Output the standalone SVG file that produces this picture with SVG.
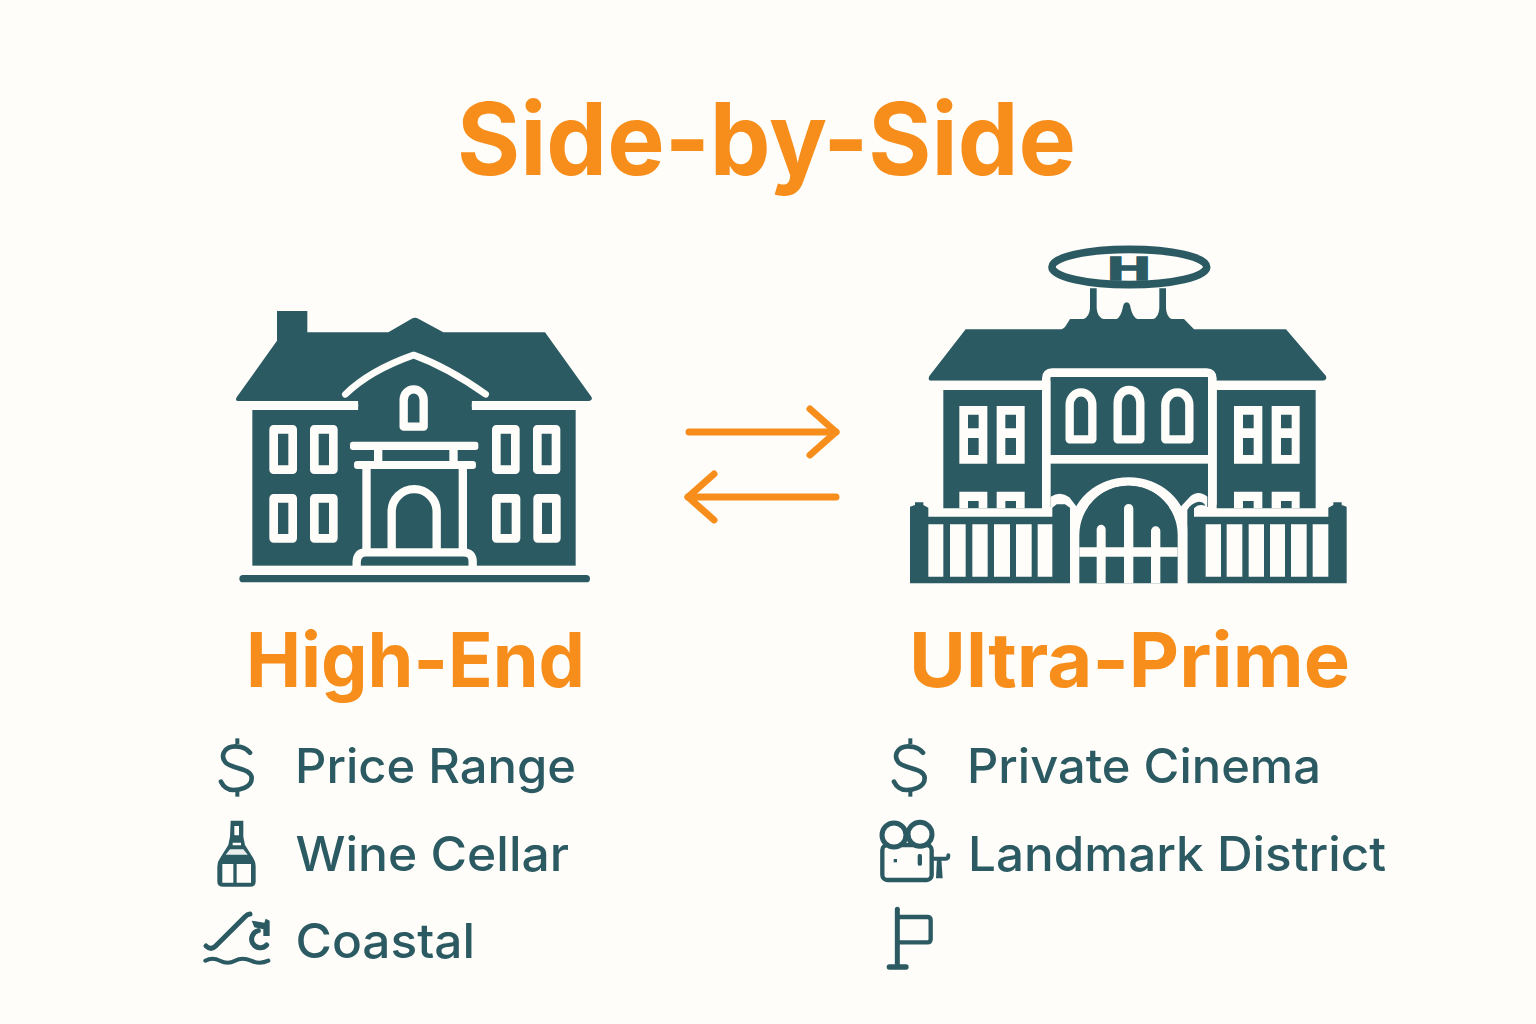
<svg xmlns="http://www.w3.org/2000/svg" width="1536" height="1024" viewBox="0 0 1536 1024">
<style>
.h{font-family:Inter,"Liberation Sans",sans-serif;font-weight:700;fill:#F78E1C}
.l{font-family:Inter,"Liberation Sans",sans-serif;font-weight:500;font-size:48px;fill:#2C5A63}
.d{fill:#2C5A63}
.w{fill:#FEFDF9}
.ws{fill:none;stroke:#FEFDF9;stroke-linecap:round;stroke-linejoin:round}
.ds{fill:none;stroke:#2C5A63;stroke-linecap:round;stroke-linejoin:round}
.wf{fill:#FEFDF9;stroke:none}
</style>
<defs>
<marker id="head" markerUnits="userSpaceOnUse" markerWidth="60" markerHeight="60" refX="30" refY="30" orient="auto" overflow="visible">
<path d="M4,7 L30,30 L4,53" fill="none" stroke="#F78E1C" stroke-width="7" stroke-linecap="round" stroke-linejoin="round"/>
</marker>
<g id="dollar">
<path d="M165,68 C150,50 125,47 110,50 C85,55 78,80 90,95 C105,118 170,112 170,145 C170,175 130,180 115,180 C100,180 85,170 78,155" fill="none" stroke="#2C5A63" stroke-width="14" stroke-linecap="round"/>
<rect x="121" y="25" width="12" height="17" class="d"/><rect x="121" y="183" width="12" height="17" class="d"/>
</g>
</defs>
<rect width="1536" height="1024" fill="#FEFDF9"/>
<text id="title" class="h" x="766.500" y="175" text-anchor="middle" font-size="100" textLength="619" lengthAdjust="spacingAndGlyphs">Side-by-Side</text>

<g id="node-high-end">
<g transform="translate(220,300) scale(.33333)">
<path class="d" d="M171,33H262V97H505L575,56Q585,50 595,56L670,97H975L1115,292Q1118,303 1105,303H55Q44,303 50,292L171,122Z"/>
<rect class="d" x="97" y="300" width="970" height="497"/>
<rect class="w" x="55" y="303" width="360" height="27"/>
<rect class="w" x="755" y="303" width="350" height="27"/>
<circle class="w" cx="403" cy="316" r="13"/><circle class="w" cx="767" cy="316" r="13"/>
<path class="d" d="M415,290H755V340H415Z" />
<path class="ws" stroke-width="20" d="M376,283C430,230 510,190 581,165C650,190 730,235 797,283"/>
<path class="ws" stroke-width="25" stroke-linecap="butt" d="M551,380V300A30,32 0 0 1 611,300V380Z"/>
<g class="ws" stroke-width="26" stroke-linejoin="miter">
<rect x="161" y="388" width="57" height="121"/><rect x="283" y="388" width="57" height="121"/>
<rect x="829" y="388" width="57" height="121"/><rect x="952" y="388" width="56" height="121"/>
<rect x="161" y="595" width="57" height="120"/><rect x="283" y="595" width="57" height="120"/>
<rect x="829" y="595" width="59" height="120"/><rect x="953" y="595" width="56" height="120"/>
</g>
<rect class="w" x="390" y="425" width="385" height="25" rx="8"/>
<rect class="w" x="402" y="483" width="366" height="24" rx="10"/>
<rect class="w" x="462" y="450" width="25" height="33"/><rect class="w" x="688" y="450" width="25" height="33"/>
<rect class="w" x="427" y="507" width="25" height="240"/><rect class="w" x="716" y="507" width="25" height="240"/>
<path class="ws" stroke-width="25" stroke-linecap="butt" d="M515,745V635A67,67 0 0 1 650,635V745"/>
<path class="ws" stroke-width="25" stroke-linecap="butt" d="M410,800V785Q412,757 438,757H730Q758,757 758,785V800"/>
<rect class="d" x="58" y="825" width="1052" height="22" rx="11"/>
</g>
</g>

<g id="node-ultra-prime">
<g transform="translate(900,240) scale(.33333)">
<ellipse cx="688" cy="81" rx="232" ry="53" fill="none" stroke="#2C5A63" stroke-width="23"/>
<text x="0" y="0" transform="translate(687,120) scale(1.78,1)" text-anchor="middle" font-family="'Liberation Sans',sans-serif" font-weight="700" font-size="100" fill="#2C5A63" stroke="#2C5A63" stroke-width="5">H</text>
<path class="d" d="M197,268H480Q490,268 497,258L510,237H550Q568,232 570,205V145H590V205Q592,232 610,237H650Q662,232 668,205Q670,187 680,187Q690,187 692,205Q698,232 712,237H760Q776,232 778,205V145H798V205Q800,232 815,237H852L882,268H1158L1278,408Q1282,422 1268,422H95Q82,422 88,408Z"/>
<rect class="d" x="130" y="450" width="296" height="370"/>
<rect class="d" x="950" y="450" width="297" height="370"/>
<path class="ws" stroke-width="26" stroke-linecap="butt" d="M439,790V415Q439,398 456,398H920Q937,398 937,415V790"/>
<rect class="d" x="452" y="412" width="472" height="233"/>
<rect class="d" x="452" y="671" width="472" height="130"/>
<path class="wf" d="M95,422H426V450H95Z M950,422H1275V450H950Z"/>
<path class="wf" d="M178,498h84v173h-84z M290,498h84v173h-84z M1002,498h85v173h-85z M1115,498h84v173h-84z"/>
<path class="d" d="M204,524h32v41h-32z M204,594h32v51h-32z M316,524h32v41h-32z M316,594h32v51h-32z M1029,524h32v41h-32z M1029,594h32v51h-32z M1143,524h32v41h-32z M1143,594h32v51h-32z"/>
<path class="wf" d="M178,755h84v50h-84z M290,755h84v50h-84z M1002,755h85v50h-85z M1115,755h84v50h-84z"/>
<path class="d" d="M204,783h32v22h-32z M316,783h32v22h-32z M1029,783h32v22h-32z M1143,783h32v22h-32z"/>
<g class="ws" stroke-width="25" stroke-linecap="butt">
<path d="M509,598V495A34,38 0 0 1 577,495V598Z"/>
<path d="M653,598V488A34,38 0 0 1 721,488V598Z"/>
<path d="M796,598V495A36,38 0 0 1 868,495V598Z"/>
</g>
<path class="wf" d="M85,805H470V830H85Z M905,805H1290V830H905Z"/>
<path class="wf" d="M452,770Q482,752 508,772L530,800V830H452Z"/>
<path class="wf" d="M842,800L870,770Q895,748 922,770V830H842Z"/>
<path class="d" d="M30,800L45,795V787H70V795L85,803V830H457V803L470,793H495L510,803V1030H30Z"/>
<path class="d" d="M862,810Q872,790 895,785Q912,785 916,797Q895,790 882,805V830H1285V803L1300,795V787H1325V795L1340,800V1030H862Z"/>
<path class="wf" d="M85,853h45v157h-45z M150,853h47v157h-47z M217,853h46v157h-46z M282,853h48v157h-48z M348,853h47v157h-47z M413,853h44v157h-44z M917,853h46v157h-46z M980,853h47v157h-47z M1046,853h46v157h-46z M1110,853h45v157h-45z M1173,853h47v157h-47z M1238,853h47v157h-47z"/>
<path class="wf" d="M510,1030V870A176,158 0 0 1 862,870V1030H833V885A147,147 0 0 0 538,885V1030Z"/>
<path class="d" d="M538,1030V885A147,147 0 0 1 833,885V1030Z"/>
<path class="wf" d="M538,922H833V950H538Z"/>
<path class="wf" d="M590,1030V868A13.500,13.500 0 0 1 617,868V1030Z M672,1030V806A14,14 0 0 1 700,806V1030Z M753,1030V873A14,14 0 0 1 781,873V1030Z"/>
</g>
</g>

<g id="connectors">
<path d="M689,432H836" fill="none" stroke="#F78E1C" stroke-width="7" stroke-linecap="round" marker-end="url(#head)"/>
<path d="M836,497H688" fill="none" stroke="#F78E1C" stroke-width="7" stroke-linecap="round" marker-end="url(#head)"/>
</g>

<text id="label-high-end" class="h" x="415.500" y="687" text-anchor="middle" font-size="76" textLength="339" lengthAdjust="spacingAndGlyphs">High-End</text>
<text id="label-ultra-prime" class="h" x="1129.500" y="687" text-anchor="middle" font-size="76" textLength="441" lengthAdjust="spacingAndGlyphs">Ultra-Prime</text>

<g id="item-price-range">
<use href="#dollar" transform="translate(195,730) scale(.33333)"/>
<text class="l" x="295" y="783" textLength="281" lengthAdjust="spacingAndGlyphs">Price Range</text>
</g>
<g id="item-wine-cellar">
<g transform="translate(195,730) scale(.33333)">
<path class="d" d="M107,272H145V320L150,345L175,385Q182,395 182,410V455Q182,470 165,470H85Q67,470 67,455V410Q67,395 75,385L100,345L105,320Z"/>
<path class="w" d="M118,288h14v28h-14z M113,338h25v8h-25z M82,402h33v56h-33z M125,402h43v56h-43z"/>
<path class="w" d="M105,358L145,358L158,374H92Z" opacity=".9"/>
</g>
<text class="l" x="295.500" y="871" textLength="273.500" lengthAdjust="spacingAndGlyphs">Wine Cellar</text>
</g>
<g id="item-coastal">
<g transform="translate(195,730) scale(.33333)">
<path class="ds" stroke-width="15" d="M33,648Q48,662 62,648L150,560Q157,553 165,552"/>
<path class="ds" stroke-width="15" d="M190,602A26,26 0 1 0 215,645"/>
<path class="d" d="M170,572L208,578L212,566L224,572V618L205,618L205,598L178,592Z"/>
<path class="ds" stroke-width="12" d="M31,692Q52,680 75,692T120,692T168,692T220,692"/>
</g>
<text class="l" x="295.500" y="958" textLength="179.500" lengthAdjust="spacingAndGlyphs">Coastal</text>
</g>
<g id="item-private-cinema">
<use href="#dollar" transform="translate(868,730) scale(.33333)"/>
<text class="l" x="967" y="783" textLength="354" lengthAdjust="spacingAndGlyphs">Private Cinema</text>
</g>
<g id="item-landmark-district">
<g transform="translate(870,730) scale(.33333)">
<rect x="37" y="345" width="148" height="105" rx="15" fill="none" stroke="#2C5A63" stroke-width="13"/>
<circle cx="72" cy="315" r="36" fill="#FEFDF9" stroke="#2C5A63" stroke-width="15"/>
<circle cx="150" cy="313" r="36" fill="#FEFDF9" stroke="#2C5A63" stroke-width="15"/>
<path class="ds" stroke-width="12" d="M188,386H228Q235,386 235,376"/>
<path class="d" d="M201,386H214L218,445H198Z"/>
<rect class="d" x="71" y="387" width="10" height="10"/>
<rect class="d" x="143" y="372" width="13" height="35" rx="5"/>
</g>
<text class="l" x="968" y="871" textLength="418" lengthAdjust="spacingAndGlyphs">Landmark District</text>
</g>
<g id="item-flag">
<g transform="translate(870,730) scale(.33333)">
<path class="ds" stroke-width="15" d="M82,538V710"/>
<path class="ds" stroke-width="16" d="M58,711H108"/>
<path class="ds" stroke-width="13" d="M82,561H172Q182,561 182,571V627Q182,637 172,637H82"/>
</g>
</g>
</svg>
